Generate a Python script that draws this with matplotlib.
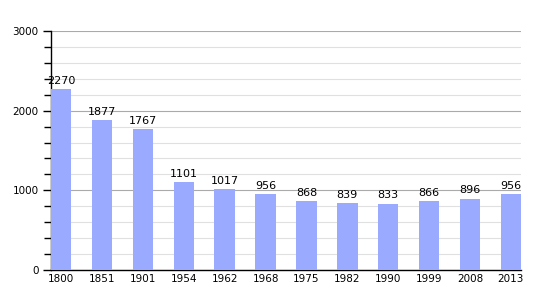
import matplotlib
matplotlib.use("Agg")
import matplotlib.pyplot as plt
from matplotlib.ticker import MultipleLocator

years = ["1800", "1851", "1901", "1954", "1962", "1968", "1975", "1982", "1990", "1999", "2008", "2013"]
population = [2270, 1877, 1767, 1101, 1017, 956, 868, 839, 833, 866, 896, 956]

fig = plt.figure(figsize=(5.5, 3), dpi=100)
ax = fig.add_axes([51/550, 30/300, 470/550, 239/300])
x = list(range(len(years)))
ax.bar(x, population, width=0.5, color="#99aaff", zorder=3)
for xi, v in zip(x, population):
    ax.text(xi, v + 40, str(v), ha="center", va="bottom", fontsize=8, zorder=4)

ax.set_xlim(-0.25, len(years) - 0.75)
ax.set_ylim(0, 3000)
ax.set_xticks(x)
ax.set_xticklabels(years, fontsize=7.5)
ax.yaxis.set_major_locator(MultipleLocator(1000))
ax.yaxis.set_minor_locator(MultipleLocator(200))
ax.tick_params(axis="y", labelsize=7.5, length=5.5, width=1)
ax.tick_params(axis="y", which="minor", length=5, width=1)
ax.tick_params(axis="x", length=0, pad=3)
ax.grid(axis="y", which="major", color="#aaaaaa", linewidth=0.8, zorder=0)
ax.grid(axis="y", which="minor", color="#e0e0e0", linewidth=0.8, zorder=0)
for s in ["top", "right"]:
    ax.spines[s].set_visible(False)
ax.spines["left"].set_linewidth(1)
ax.spines["bottom"].set_linewidth(1)
fig.savefig("out.png", dpi=100)
